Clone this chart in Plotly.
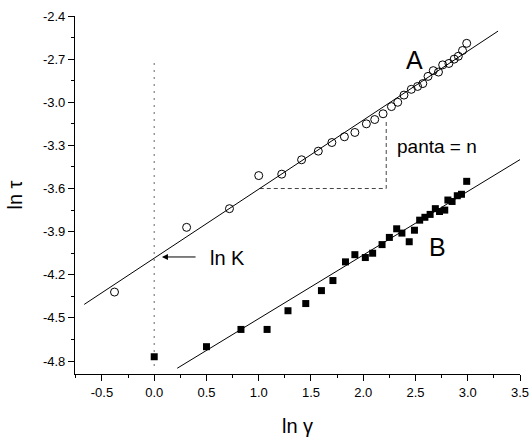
import plotly.graph_objects as go

# серия A (открытые кружки)
a_x = [-0.38, 0.31, 0.72, 1.00, 1.22, 1.41, 1.57, 1.70, 1.82, 1.92, 2.03, 2.11, 2.19,
       2.27, 2.33, 2.39, 2.46, 2.52, 2.57, 2.62, 2.67, 2.72, 2.76, 2.82, 2.87, 2.91,
       2.95, 2.99]
a_y = [-4.32, -3.87, -3.74, -3.51, -3.50, -3.40, -3.34, -3.28, -3.24, -3.21, -3.15,
       -3.12, -3.08, -3.03, -3.00, -2.95, -2.91, -2.89, -2.87, -2.82, -2.78, -2.79,
       -2.74, -2.73, -2.70, -2.68, -2.64, -2.59]

# серия B (закрашенные квадраты)
b_x = [0.00, 0.50, 0.83, 1.08, 1.28, 1.45, 1.60, 1.71, 1.83, 1.92, 2.02, 2.09, 2.18,
       2.25, 2.32, 2.37, 2.44, 2.49, 2.54, 2.59, 2.64, 2.69, 2.73, 2.78, 2.81, 2.85,
       2.90, 2.94, 2.99]
b_y = [-4.77, -4.70, -4.58, -4.58, -4.45, -4.40, -4.31, -4.24, -4.11, -4.06, -4.08,
       -4.05, -3.99, -3.94, -3.88, -3.91, -3.97, -3.89, -3.82, -3.80, -3.78, -3.74,
       -3.76, -3.75, -3.68, -3.69, -3.65, -3.64, -3.55]

# прямые аппроксимации
fit_a_x = [-0.67, 3.29]
fit_a_y = [-4.406, -2.505]
fit_b_x = [0.22, 3.52]
fit_b_y = [-4.85, -3.39]

# вспомогательные линии
lnk_x = [0.0, 0.0]
lnk_y = [-2.73, -4.86]
tri_x = [1.01, 2.22, 2.22]
tri_y = [-3.60, -3.60, -3.13]

x_ticks = [-0.5, 0.0, 0.5, 1.0, 1.5, 2.0, 2.5, 3.0, 3.5]
y_ticks = [-2.4, -2.7, -3.0, -3.3, -3.6, -3.9, -4.2, -4.5, -4.8]

FONT = "Liberation Sans, Arial, sans-serif"

fig = go.Figure()
fig.add_trace(go.Scatter(x=lnk_x, y=lnk_y, mode="lines",
                         line=dict(color="black", width=1.2, dash="1px,6px")))
fig.add_trace(go.Scatter(x=tri_x, y=tri_y, mode="lines",
                         line=dict(color="#444", width=1, dash="4px,3px")))
fig.add_trace(go.Scatter(x=fit_a_x, y=fit_a_y, mode="lines", line=dict(color="black", width=1)))
fig.add_trace(go.Scatter(x=fit_b_x, y=fit_b_y, mode="lines", line=dict(color="black", width=1)))
fig.add_trace(go.Scatter(x=a_x, y=a_y, mode="markers",
                         marker=dict(symbol="circle-open", size=8, color="black", line=dict(width=1))))
fig.add_trace(go.Scatter(x=b_x, y=b_y, mode="markers",
                         marker=dict(symbol="square", size=7, color="black")))

fig.add_annotation(x=2.495, y=-2.705, text="A", showarrow=False, font=dict(size=25))
fig.add_annotation(x=2.71, y=-4.01, text="B", showarrow=False, font=dict(size=25))
fig.add_annotation(x=2.71, y=-3.31, text="panta = n", showarrow=False, font=dict(size=19))
fig.add_annotation(x=0.70, y=-4.08, text="ln K", showarrow=False, font=dict(size=20))
fig.add_annotation(x=0.074, y=-4.076, ax=0.41, ay=-4.076, axref="x", ayref="y",
                   text="", showarrow=True, arrowhead=2, arrowsize=1.2, arrowwidth=1,
                   arrowcolor="black")

fig.update_layout(
    width=530, height=437,
    margin=dict(l=75, r=10, t=16, b=63),
    plot_bgcolor="white", paper_bgcolor="white",
    showlegend=False,
    font=dict(family=FONT, color="black", size=13),
    xaxis=dict(range=[-0.758, 3.5], tickvals=x_ticks, ticktext=[f"{v:.1f}" for v in x_ticks],
               automargin=False,
               showgrid=False, zeroline=False, showline=True, linecolor="black", linewidth=1.2,
               ticks="outside", ticklen=6, tickcolor="black",
               minor=dict(dtick=0.25, tick0=0, ticks="outside", ticklen=3, tickcolor="black"),
               title=dict(text="ln γ", font=dict(size=20), standoff=20)),
    yaxis=dict(range=[-4.89, -2.4], tickvals=y_ticks, ticktext=[f"{v:.1f}" for v in y_ticks],
               automargin=False,
               showgrid=False, zeroline=False, showline=True, linecolor="black", linewidth=1.2,
               ticks="outside", ticklen=6, tickcolor="black",
               minor=dict(dtick=0.15, tick0=-2.4, ticks="outside", ticklen=3, tickcolor="black"),
               title=dict(text="ln τ", font=dict(size=20), standoff=14)),
)

# убираем отступ body, чтобы график 530x437 ровно лёг в окно
fig.write_html("out.html", config={"displayModeBar": False},
               post_script="document.body.style.margin='0';")
